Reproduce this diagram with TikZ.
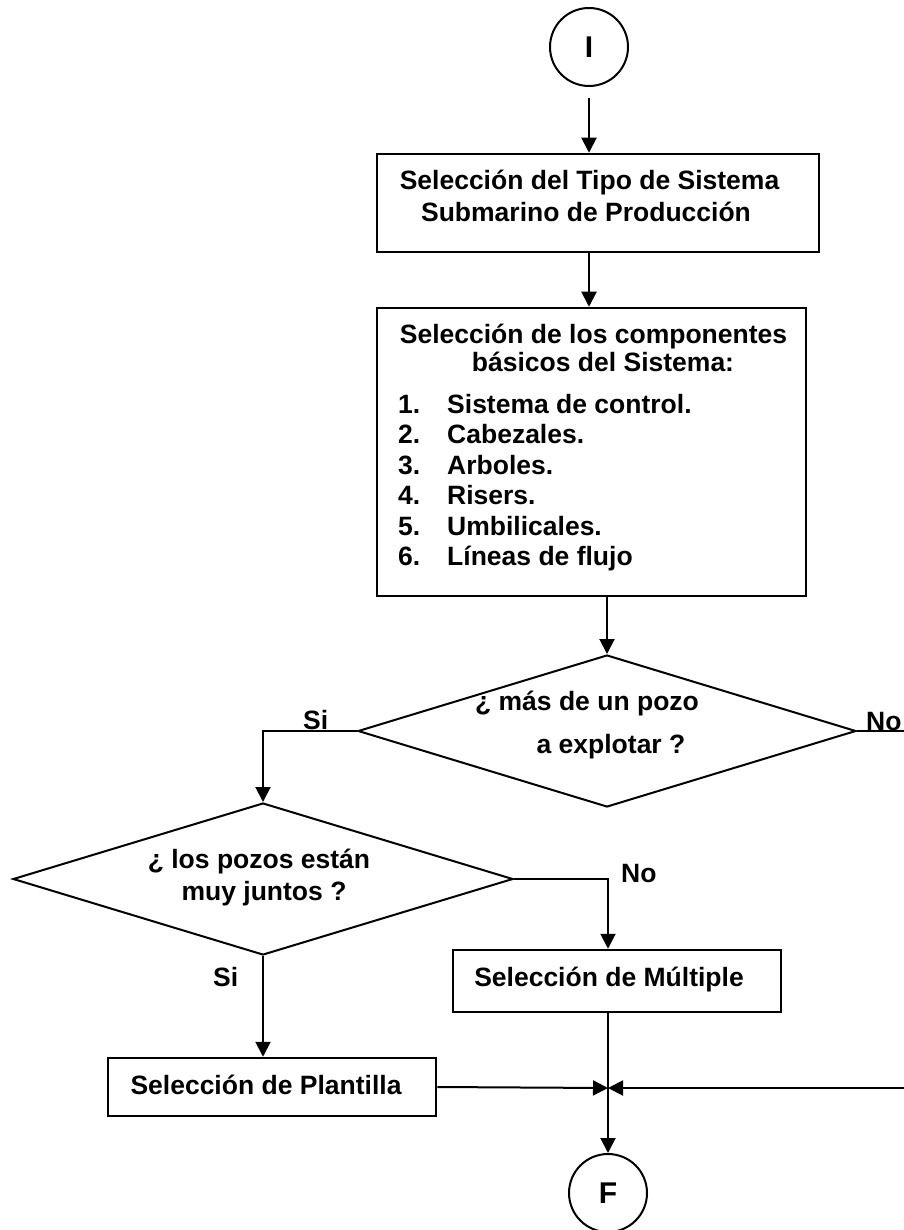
\documentclass[tikz,border=0pt]{standalone}
\usepackage{fontspec}
\setmainfont{Liberation Sans}
\usetikzlibrary{arrows.meta,shapes.geometric}
\begin{document}
\begin{tikzpicture}[x=1pt,y=-1pt,
  font=\fontsize{26.5}{32}\selectfont\bfseries,
  box/.style={draw,line width=2.5pt,rectangle,inner sep=0pt},
  circ/.style={draw,line width=2pt,circle,minimum size=78pt,inner sep=0pt,
    font=\fontsize{30}{34}\selectfont\bfseries},
  dia/.style={draw,line width=2pt,diamond,inner sep=0pt},
  conn/.style={line width=2pt},
  arr/.style={conn,-{Triangle[length=15pt,width=15pt]}},
  txt/.style={inner sep=0pt,anchor=base},
  ltxt/.style={inner sep=0pt,anchor=base west}]
\useasboundingbox (0,0) rectangle (903,1230);

% nodes
\node[circ] (cI) at (589,47) {I};
\node[box,minimum width=442pt,minimum height=98pt] (b1) at (598,203) {};
\node[txt] (t1a) at (589.5,190) {Selección del Tipo de Sistema};
\node[txt] (t1b) at (586,222) {Submarino de Producción};

\node[box,minimum width=429pt,minimum height=288pt] (b2) at (591.5,452) {};
\node[txt] (t2a) at (593.5,343) {Selección de los componentes};
\node[txt] (t2b) at (603,371) {básicos del Sistema:};
\node[ltxt] (n1) at (398,413) {1.};
\node[ltxt] (i1) at (447,413) {Sistema de control.};
\node[ltxt] (n2) at (398,443.5) {2.};
\node[ltxt] (i2) at (447,443.5) {Cabezales.};
\node[ltxt] (n3) at (398,474) {3.};
\node[ltxt] (i3) at (447,474) {Arboles.};
\node[ltxt] (n4) at (398,504.5) {4.};
\node[ltxt] (i4) at (447,504.5) {Risers.};
\node[ltxt] (n5) at (398,535) {5.};
\node[ltxt] (i5) at (447,535) {Umbilicales.};
\node[ltxt] (n6) at (398,565.5) {6.};
\node[ltxt] (i6) at (447,565.5) {Líneas de flujo};

\node[dia,minimum width=498pt,minimum height=152pt] (d1) at (607,731) {};
\node[txt] (t3a) at (587,710) {¿ más de un pozo};
\node[txt] (t3b) at (611,753) {a explotar ?};

\node[dia,minimum width=500pt,minimum height=152pt] (d2) at (263,879) {};
\node[txt] (t4a) at (259,868) {¿ los pozos están};
\node[txt] (t4b) at (264,900) {muy juntos ?};

\node[box,minimum width=328pt,minimum height=62pt] (b3) at (617,981) {};
\node[txt] (t5) at (609,986) {Selección de Múltiple};

\node[box,minimum width=328pt,minimum height=58pt] (b4) at (272,1087) {};
\node[txt] (t6) at (266,1094) {Selección de Plantilla};

\node[circ] (cF) at (608,1193) {F};

\coordinate (J) at (608,1088);
\coordinate (eR1) at (906,731);
\coordinate (eR2) at (906,1088);

% labels
\node[ltxt] (lSi1) at (303,729) {Si};
\node[ltxt] (lNo1) at (866,730) {No};
\node[ltxt] (lNo2) at (621,882) {No};
\node[ltxt] (lSi2) at (213,986) {Si};

% connectors
\draw[arr,shorten <=11pt] (cI.south) -- (cI |- b1.north);
\draw[arr] (cI |- b1.south) -- (cI |- b2.north);
\draw[arr] (d1 |- b2.south) -- (d1.north);
\draw[arr] (d1.west) -| (d2.north);
\draw[conn] (d1.east) -- (eR1);
\draw[arr] (d2.east) -| (cF |- b3.north);
\draw[arr] (d2.south) -- (d2.south |- b4.north);
\draw[arr] (b4.east) -- (J);
\draw[arr] (eR2) -- (J);
\draw[arr] (cF |- b3.south) -- (cF.north);
\end{tikzpicture}
\end{document}
